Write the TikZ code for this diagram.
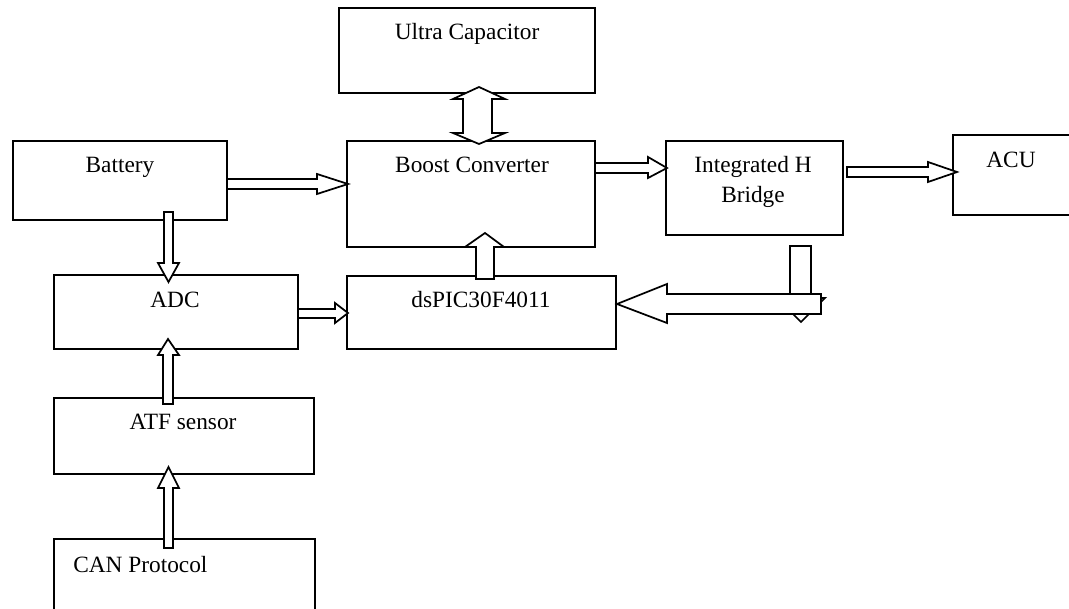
\documentclass[tikz,border=0pt]{standalone}
\usepackage{fontspec}
\setmainfont{Liberation Serif}
\begin{document}
\begin{tikzpicture}[x=0.75pt,y=-0.75pt,
  box/.style={draw,line width=1.3pt},
  blockarrow/.style={draw,line width=1.3pt,fill=white,line join=miter},
  lbl/.style={anchor=base,inner sep=0pt,font=\fontsize{17.5}{21}\selectfont}]
\useasboundingbox (0,0) rectangle (1069,609);
% boxes
\draw[box] (339,8) rectangle (595,93) coordinate (ucbox);
\draw[box] (347,141) rectangle (595,247) coordinate (bcbox);
\draw[box] (13,141) rectangle (227,220) coordinate (batbox);
\draw[box] (54,275) rectangle (298,349) coordinate (adcbox);
\draw[box] (347,276) rectangle (616,349) coordinate (dspbox);
\draw[box] (54,398) rectangle (314,474) coordinate (atfbox);
\draw[box] (54,539) rectangle (315,650) coordinate (canbox);
\draw[box] (666,141) rectangle (843,235) coordinate (ihbbox);
\draw[box] (953,135) rectangle (1100,215) coordinate (acubox);
% labels
\node[lbl] (uc) at (467,40) {Ultra Capacitor};
\node[lbl] (bc) at (472,173) {Boost Converter};
\node[lbl] (bat) at (120,173) {Battery};
\node[lbl] (adc) at (175,307) {ADC};
\node[lbl] (dsp) at (481,307) {dsPIC30F4011};
\node[lbl] (atf) at (183,429) {ATF sensor};
\node[lbl,anchor=base west] (can) at (73,572) {CAN Protocol};
\node[lbl] (ihb1) at (753,173) {Integrated H};
\node[lbl] (ihb2) at (753,203) {Bridge};
\node[lbl] (acu) at (1011,168) {ACU};
% block arrows
% Ultra Capacitor <-> Boost Converter
\draw[blockarrow] (479,87) -- (505,99) -- (492,99) -- (492,133) -- (505,133) -- (479,144)
  -- (453,133) -- (463,133) -- (463,99) -- (453,99) -- cycle;
% dsPIC -> Boost Converter
\draw[blockarrow] (485,233) -- (504,247) -- (494,247) -- (494,279) -- (476,279) -- (476,247) -- (465,247) -- cycle;
% Battery -> Boost Converter
\draw[blockarrow] (227,179) -- (317,179) -- (317,174) -- (348,184) -- (317,194) -- (317,189) -- (227,189) -- cycle;
% Battery -> ADC
\draw[blockarrow] (164,212) -- (173,212) -- (173,263) -- (179,263) -- (168.5,282) -- (158,263) -- (164,263) -- cycle;
% ADC -> dsPIC
\draw[blockarrow] (298,309) -- (335,309) -- (335,303) -- (348,313) -- (335,323) -- (335,318) -- (298,318) -- cycle;
% ATF -> ADC
\draw[blockarrow] (163,404) -- (163,355) -- (158,355) -- (168,339) -- (179,355) -- (173,355) -- (173,404) -- cycle;
% CAN -> ATF
\draw[blockarrow] (164,548) -- (164,488) -- (158,488) -- (168.5,467) -- (179,488) -- (173,488) -- (173,548) -- cycle;
% Boost Converter -> Integrated H Bridge
\draw[blockarrow] (595,163) -- (648,163) -- (648,157) -- (667,168) -- (648,178) -- (648,173) -- (595,173) -- cycle;
% Integrated H Bridge -> ACU
\draw[blockarrow] (847,167) -- (928,167) -- (928,162) -- (957,172) -- (928,182) -- (928,177) -- (847,177) -- cycle;
% Integrated H Bridge down arrow
\draw[blockarrow] (790,246) -- (811,246) -- (811,298) -- (825,298) -- (801,322) -- (777,298) -- (790,298) -- cycle;
% big arrow back to dsPIC
\draw[blockarrow] (821,294) -- (667,294) -- (667,284) -- (617,304) -- (667,323) -- (667,314) -- (821,314) -- cycle;
\end{tikzpicture}
\end{document}
